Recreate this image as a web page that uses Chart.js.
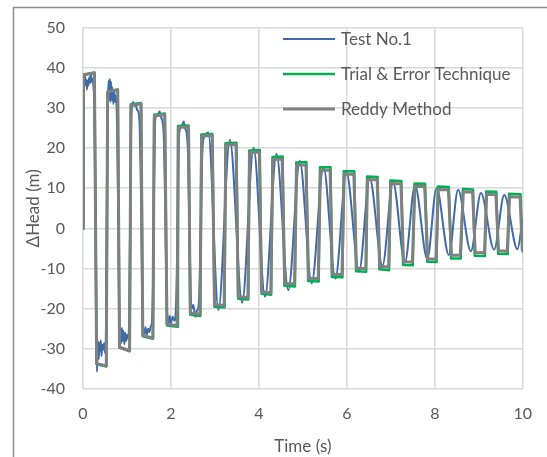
<!DOCTYPE html>
<html>
<head>
<meta charset="utf-8">
<title>Head fluctuation</title>
<script src="https://cdn.jsdelivr.net/npm/chart.js@4.4.1/dist/chart.umd.min.js"></script>
<style>
  html, body { margin: 0; padding: 0; background: #ffffff; }
  canvas { display: block; }
</style>
</head>
<body>
<canvas id="chart" width="547" height="457"></canvas>
<script>
// Axis ticks
const timeTicks = [0, 2, 4, 6, 8, 10];
const headTicks = [-40, -30, -20, -10, 0, 10, 20, 30, 40, 50];

// Series names
const seriesNames = ['Test No.1', 'Trial & Error Technique', 'Reddy Method'];

// Test No.1 (measured), time in s and head change in m
const testTime = [
  0.000, 0.004, 0.010, 0.018, 0.030, 0.045, 0.060, 0.075, 0.090, 0.105, 0.120, 0.140, 0.160, 0.180, 0.200, 0.220, 0.240, 0.260,
  0.285, 0.305, 0.318, 0.330, 0.345, 0.360, 0.375, 0.390, 0.405, 0.420, 0.440, 0.460, 0.480, 0.500, 0.520,
  0.540, 0.555, 0.570, 0.585, 0.595, 0.610, 0.625, 0.640, 0.655, 0.670, 0.690, 0.710, 0.730, 0.750, 0.770,
  0.800, 0.825, 0.840, 0.855, 0.870, 0.885, 0.900, 0.920, 0.940, 0.960, 0.980, 1.000, 1.030, 1.050,
  1.075, 1.095, 1.115, 1.140, 1.170, 1.200, 1.230, 1.260, 1.290,
  1.320, 1.345, 1.365, 1.390, 1.420, 1.450, 1.480, 1.510, 1.540, 1.570,
  1.595, 1.615, 1.635, 1.660, 1.700, 1.740, 1.780, 1.810, 1.840,
  1.870, 1.895, 1.915, 1.940, 1.970, 2.000, 2.040, 2.080, 2.110,
  2.135, 2.160, 2.185, 2.220, 2.260, 2.290, 2.320, 2.360, 2.390,
  2.420, 2.445, 2.470, 2.510, 2.550, 2.590, 2.630,
  2.660, 2.690, 2.720, 2.760, 2.850,
  3.080, 3.340, 3.620, 3.880, 4.140, 4.400, 4.670, 4.930, 5.200, 5.470,
  5.740, 5.990, 6.280, 6.520, 6.810, 7.050, 7.320, 7.550, 7.830, 8.040,
  8.320, 8.530, 8.820, 9.050, 9.350, 9.580, 9.880, 10.000
];
const testHead = [
  0.0, 18.0, 34.0, 37.5, 35.2, 38.2, 35.8, 37.0, 34.6, 36.8, 35.5, 37.6, 36.2, 38.4, 36.5, 37.2, 35.0, 30.0,
  5.0, -28.0, -35.7, -31.0, -28.2, -32.5, -28.5, -30.5, -27.9, -31.8, -29.0, -30.2, -28.6, -31.0, -27.0,
  0.0, 27.0, 33.5, 36.8, 32.0, 37.2, 31.5, 36.5, 32.0, 35.0, 31.0, 34.2, 31.5, 33.0, 28.0,
  5.0, -22.0, -29.4, -25.2, -28.5, -24.8, -28.0, -25.5, -28.8, -26.0, -28.0, -26.5, -27.5, -22.0,
  5.0, 26.0, 30.2, 31.5, 30.5, 30.8, 29.5, 29.0, 25.0,
  8.0, -18.0, -25.0, -26.4, -24.6, -26.5, -25.0, -25.8, -24.4, -23.0,
  -12.0, 10.0, 25.0, 28.0, 28.2, 29.1, 27.5, 26.5, 22.0,
  5.0, -15.0, -22.0, -23.8, -21.8, -23.6, -22.0, -23.0, -20.5,
  -10.0, 12.0, 23.0, 25.2, 25.8, 26.6, 25.0, 23.5, 18.0,
  0.0, -15.0, -20.0, -19.0, -22.0, -20.5, -19.2,
  -10.0, 8.0, 20.5, 22.8, 23.9,
  -20.3, 22.1, -18.5, 20.1, -17.0, 18.5, -15.4, 16.8, -13.7, 15.3,
  -12.5, 13.9, -10.6, 12.5, -9.3, 11.5, -8.5, 10.7, -7.6, 10.0,
  -6.6, 9.6, -5.7, 8.8, -5.3, 8.3, -5.2, 2.5
];

// Trial & Error Technique (computed)
const trialTime = [
  0.00, 0.01, 0.26, 0.31, 0.53, 0.56, 0.79, 0.83, 1.06, 1.09, 1.32, 1.36, 1.59, 1.62, 1.86, 1.91, 2.14,
  2.16, 2.40, 2.44, 2.67, 2.69, 2.94, 2.99, 3.22, 3.24, 3.49, 3.53, 3.76, 3.78, 4.02, 4.06, 4.28,
  4.31, 4.54, 4.58, 4.82, 4.85, 5.08, 5.12, 5.36, 5.39, 5.63, 5.66, 5.90, 5.93, 6.17, 6.21, 6.44,
  6.46, 6.70, 6.74, 6.96, 6.99, 7.24, 7.28, 7.50, 7.54, 7.78, 7.83, 8.04, 8.07, 8.32, 8.37, 8.59,
  8.64, 8.87, 8.91, 9.14, 9.17, 9.40, 9.44, 9.66, 9.69, 9.95, 10.00
];
const trialHead = [
  0.0, 38.3, 38.8, -33.8, -34.4, 34.1, 34.6, -29.7, -30.6, 30.9, 31.2, -26.9, -27.5, 28.3, 28.6, -24.2, -24.5,
  25.5, 25.6, -21.5, -21.8, 23.4, 23.5, -19.5, -19.7, 21.2, 21.3, -17.5, -17.7, 19.4, 19.5, -16.3, -16.5,
  17.8, 17.9, -14.3, -14.5, 16.4, 16.5, -13.1, -13.2, 15.2, 15.2, -12.1, -12.2, 14.2, 14.2, -10.7, -10.8,
  12.9, 12.8, -10.2, -10.4, 11.9, 11.8, -9.1, -9.2, 11.2, 11.1, -8.3, -8.4, 10.4, 10.3, -7.5, -7.5,
  9.8, 9.7, -6.8, -6.9, 9.2, 9.1, -6.3, -6.4, 8.6, 8.5, -5.8
];

// Reddy Method (computed)
const reddyTime = [
  0.00, 0.01, 0.26, 0.31, 0.53, 0.56, 0.79, 0.83, 1.06, 1.09, 1.32, 1.36, 1.59, 1.62, 1.86, 1.91, 2.14,
  2.17, 2.40, 2.44, 2.66, 2.70, 2.94, 2.99, 3.21, 3.25, 3.48, 3.53, 3.75, 3.79, 4.01, 4.06, 4.27,
  4.32, 4.53, 4.59, 4.81, 4.86, 5.07, 5.13, 5.35, 5.40, 5.62, 5.67, 5.89, 5.94, 6.16, 6.22, 6.43,
  6.47, 6.69, 6.75, 6.95, 7.00, 7.23, 7.29, 7.49, 7.55, 7.77, 7.84, 8.03, 8.08, 8.31, 8.38, 8.58,
  8.65, 8.86, 8.92, 9.13, 9.18, 9.39, 9.45, 9.65, 9.70, 9.94, 9.99
];
const reddyHead = [
  0.0, 38.2, 38.7, -33.7, -34.2, 34.0, 34.5, -29.6, -30.4, 30.7, 31.0, -26.7, -27.3, 28.0, 28.3, -23.9, -24.2,
  25.1, 25.3, -21.1, -21.4, 23.0, 23.1, -19.0, -19.2, 20.8, 20.9, -17.0, -17.2, 18.9, 19.0, -15.8, -16.0,
  17.2, 17.2, -13.7, -13.8, 15.8, 15.8, -12.4, -12.5, 14.5, 14.5, -11.4, -11.5, 13.5, 13.5, -10.0, -10.0,
  12.2, 12.1, -9.5, -9.6, 11.2, 11.1, -8.4, -8.4, 10.5, 10.4, -7.6, -7.6, 9.7, 9.6, -6.7, -6.7,
  9.1, 9.0, -6.1, -6.1, 8.5, 8.4, -5.6, -5.7, 7.9, 7.8, -5.4
];

const toPoints = (xs, ys) => xs.map((x, i) => ({ x: x, y: ys[i] }));

const textColor = '#595959';
const fontFamily = 'Lato, "Open Sans", sans-serif';
const tickFont = { family: fontFamily, size: 16 };
const titleFont = { family: fontFamily, size: 17 };

// Outer frame and an in-plot legend
const frameAndLegend = {
  id: 'frameAndLegend',
  afterDraw(chart) {
    const ctx = chart.ctx;
    ctx.save();
    ctx.strokeStyle = '#8c8c8c';
    ctx.lineWidth = 1.5;
    ctx.beginPath();
    ctx.moveTo(13.5, chart.height);
    ctx.lineTo(13.5, 7.5);
    ctx.lineTo(chart.width, 7.5);
    ctx.stroke();

    const x0 = 283, x1 = 335, tx = 341, rowTop = 39, rowGap = 35;
    ctx.font = titleFont.size + 'px ' + fontFamily;
    ctx.textBaseline = 'middle';
    ctx.textAlign = 'left';
    chart.data.datasets.forEach((ds, i) => {
      const y = rowTop + i * rowGap;
      ctx.strokeStyle = ds.borderColor;
      ctx.lineWidth = ds.borderWidth;
      ctx.lineCap = 'butt';
      ctx.beginPath();
      ctx.moveTo(x0, y);
      ctx.lineTo(x1, y);
      ctx.stroke();
      ctx.fillStyle = textColor;
      ctx.fillText(ds.label, tx, y + 1);
    });
    ctx.restore();
  }
};

new Chart(document.getElementById('chart'), {
  type: 'line',
  data: {
    datasets: [
      {
        label: seriesNames[0],
        data: toPoints(testTime, testHead),
        borderColor: '#3f6aaa',
        borderWidth: 2,
        cubicInterpolationMode: 'monotone',
        order: 3
      },
      {
        label: seriesNames[1],
        data: toPoints(trialTime, trialHead),
        borderColor: '#00b050',
        borderWidth: 2.5,
        order: 2
      },
      {
        label: seriesNames[2],
        data: toPoints(reddyTime, reddyHead),
        borderColor: '#808080',
        borderWidth: 3,
        order: 1
      }
    ]
  },
  options: {
    responsive: false,
    animation: false,
    devicePixelRatio: 1,
    elements: {
      point: { radius: 0 },
      line: { tension: 0, borderJoinStyle: 'round', borderCapStyle: 'round', fill: false }
    },
    layout: { padding: { left: 0, top: 22, right: 24, bottom: 0 } },
    plugins: {
      legend: { display: false },
      tooltip: { enabled: false }
    },
    scales: {
      x: {
        type: 'linear',
        min: 0,
        max: 10,
        afterBuildTicks: (s) => { s.ticks = timeTicks.map(v => ({ value: v })); },
        afterFit: (s) => { s.height = 68; },
        grid: { color: '#d9d9d9', lineWidth: 1.5, drawTicks: false },
        border: { display: false },
        ticks: { padding: 15, color: textColor, font: tickFont, maxRotation: 0 },
        title: { display: true, text: 'Time (s)', color: textColor, font: titleFont, padding: { top: 6, bottom: 0 } }
      },
      y: {
        type: 'linear',
        min: -40,
        max: 50,
        afterBuildTicks: (s) => { s.ticks = headTicks.map(v => ({ value: v })); },
        afterFit: (s) => { s.width = 83; },
        grid: { color: '#d9d9d9', lineWidth: 1.5, drawTicks: false },
        border: { display: false },
        ticks: { padding: 18, color: textColor, font: tickFont },
        title: { display: true, text: 'ΔHead (m)', color: textColor, font: titleFont, padding: { top: 23, bottom: 0 } }
      }
    }
  },
  plugins: [frameAndLegend]
});
</script>
</body>
</html>
